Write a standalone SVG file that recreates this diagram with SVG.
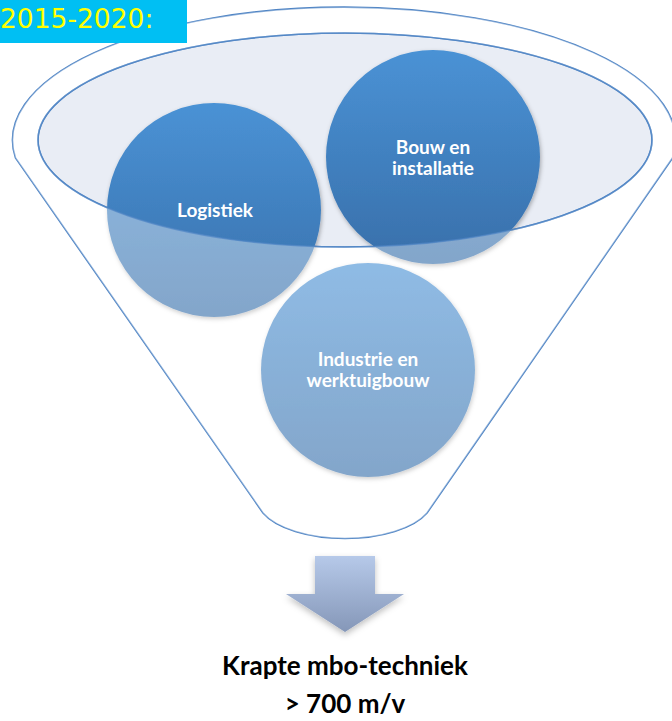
<svg xmlns="http://www.w3.org/2000/svg" width="672" height="721" viewBox="0 0 672 721">
  <defs>
    <linearGradient id="gDark" x1="0" y1="0" x2="0" y2="1">
      <stop offset="0" stop-color="#4A92D5"/>
      <stop offset="1" stop-color="#386FAA"/>
    </linearGradient>
    <linearGradient id="gArrow" x1="0" y1="0" x2="0" y2="1">
      <stop offset="0" stop-color="#B6C9E9"/>
      <stop offset="1" stop-color="#8597B8"/>
    </linearGradient>
    <filter id="shadow" x="-20%" y="-20%" width="140%" height="140%">
      <feDropShadow dx="1" dy="2" stdDeviation="2" flood-color="#000" flood-opacity="0.3"/>
    </filter>
    <filter id="ashadow" x="-30%" y="-30%" width="160%" height="160%">
      <feDropShadow dx="0" dy="3" stdDeviation="3" flood-color="#000" flood-opacity="0.25"/>
    </filter>
  </defs>
  <style>
    .rim { stroke: #4F84C4; stroke-width: 1.6; }
    .ctext { font-family: Lato, "Open Sans", sans-serif; font-weight: bold; font-size: 19px; fill: #FFFFFF; text-anchor: middle; }
    .btext { font-family: Lato, "Open Sans", sans-serif; font-weight: bold; font-size: 26px; fill: #000000; text-anchor: middle; }
  </style>

  <g id="funnel">
    <path class="rim" fill="#FFFFFF" d="M15.5,158 A331.5,133 0 1 1 672.5,158 L427,513 A88,40 0 0 1 263,513 Z"/>
    <ellipse class="rim" fill="#E9EDF5" cx="345" cy="140" rx="307" ry="107"/>
  </g>

  <g id="node-logistiek">
    <circle cx="214" cy="210" r="107" fill="url(#gDark)" filter="url(#shadow)"/>
  </g>
  <g id="node-bouw">
    <circle cx="433" cy="157" r="107" fill="url(#gDark)" filter="url(#shadow)"/>
  </g>
  <g id="node-industrie">
    <circle cx="368" cy="370" r="107" fill="url(#gDark)" filter="url(#shadow)"/>
  </g>

  <g id="funnel-front">
    <path fill="#FFFFFF" fill-opacity="0.38" fill-rule="evenodd" d="M15.5,158 A331.5,133 0 1 1 672.5,158 L427,513 A88,40 0 0 1 263,513 Z M38,140 A307,107 0 1 0 652,140 A307,107 0 1 0 38,140 Z"/>
    <ellipse class="rim" fill="none" cx="345" cy="140" rx="307" ry="107" stroke-opacity="0.7"/>
  </g>

  <g id="labels">
    <text class="ctext" x="215" y="217">Logistiek</text>
    <text class="ctext" x="433" y="154">Bouw en</text>
    <text class="ctext" x="433" y="175">installatie</text>
    <text class="ctext" x="368" y="366">Industrie en</text>
    <text class="ctext" x="368" y="387">werktuigbouw</text>
  </g>

  <g id="connectors">
    <path fill="url(#gArrow)" filter="url(#ashadow)" d="M315,556 L375,556 L375,594 L404,594 L345,632 L286,594 L315,594 Z"/>
  </g>

  <g id="result">
    <text class="btext" x="345" y="675">Krapte mbo-techniek</text>
    <text class="btext" x="345" y="713">&gt; 700 m/v</text>
  </g>

  <g id="title">
    <rect x="0" y="0" width="187" height="43" fill="#00BFF3"/>
    <text x="0" y="27.5" font-family="DejaVu Sans, Verdana, sans-serif" font-size="26.5" fill="#FFFF00">2015-2020:</text>
  </g>
</svg>
